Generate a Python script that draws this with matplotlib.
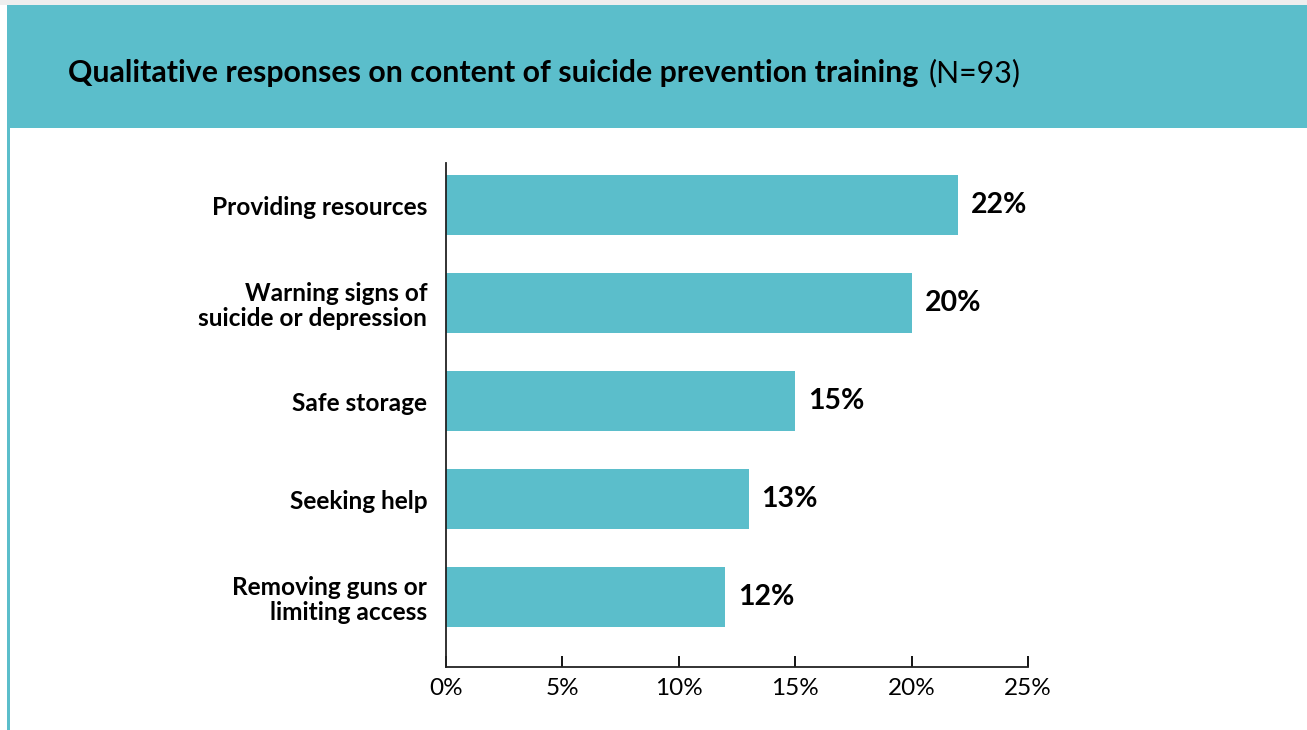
import matplotlib
matplotlib.use("Agg")
import matplotlib.pyplot as plt
from matplotlib.patches import Rectangle

# Survey results: share of qualitative responses by training topic
categories = [
    "Providing resources",
    "Warning signs of\nsuicide or depression",
    "Safe storage",
    "Seeking help",
    "Removing guns or\nlimiting access",
]
shares = [22, 20, 15, 13, 12]
ticks = [0, 5, 10, 15, 20, 25]
tick_labels = ["0%", "5%", "10%", "15%", "20%", "25%"]

teal = "#5bbecb"
plt.rcParams["font.family"] = ["Lato", "DejaVu Sans"]

W, H = 1307, 730
fig = plt.figure(figsize=(W / 100, H / 100), dpi=100)
fig.patch.set_facecolor("white")

# header band, thin grey strip above it, and the left rule
fig.patches.append(Rectangle((0, 1 - 5 / H), 1, 5 / H, transform=fig.transFigure,
                             facecolor="#eeeeee", edgecolor="none"))
fig.patches.append(Rectangle((7 / W, 1 - 128 / H), 1, 123 / H,
                             transform=fig.transFigure, facecolor=teal, edgecolor="none"))
fig.patches.append(Rectangle((7 / W, 0), 2.5 / W, 1 - 128 / H,
                             transform=fig.transFigure, facecolor=teal, edgecolor="none"))

title = fig.text(68 / W, 1 - 73 / H,
                 "Qualitative responses on content of suicide prevention training",
                 fontsize=21.8, fontweight="bold", va="center", ha="left")
fig.canvas.draw()
bb = title.get_window_extent()
fig.text((bb.x1 + 10) / W, 1 - 73 / H, "(N=93)", fontsize=21.8,
         va="center", ha="left")

ax = fig.add_axes([446 / W, 1 - 667 / H, 582 / W, 504 / H])
ypos = list(range(len(categories) - 1, -1, -1))
ax.barh(ypos, shares, height=0.612, color=teal)
ax.set_xlim(0, 25)
ax.set_ylim(-0.714, 4.43)

ax.set_yticks(ypos)
ax.set_yticklabels(categories, fontsize=17.6, fontweight="bold", linespacing=1.08)
ax.tick_params(axis="y", length=0, pad=13.5)
ax.set_xticks(ticks)
ax.set_xticklabels(tick_labels, fontsize=17.5)
ax.tick_params(axis="x", length=8, width=1.3, direction="in", pad=8)

for s in ["top", "right"]:
    ax.spines[s].set_visible(False)
for s in ["left", "bottom"]:
    ax.spines[s].set_linewidth(1.3)
    ax.spines[s].set_color("#222222")

for y, v in zip(ypos, shares):
    ax.text(v + 0.55, y, f"{v}%", va="center", ha="left",
            fontsize=20.5, fontweight="bold")

fig.savefig("out.png", dpi=100)
